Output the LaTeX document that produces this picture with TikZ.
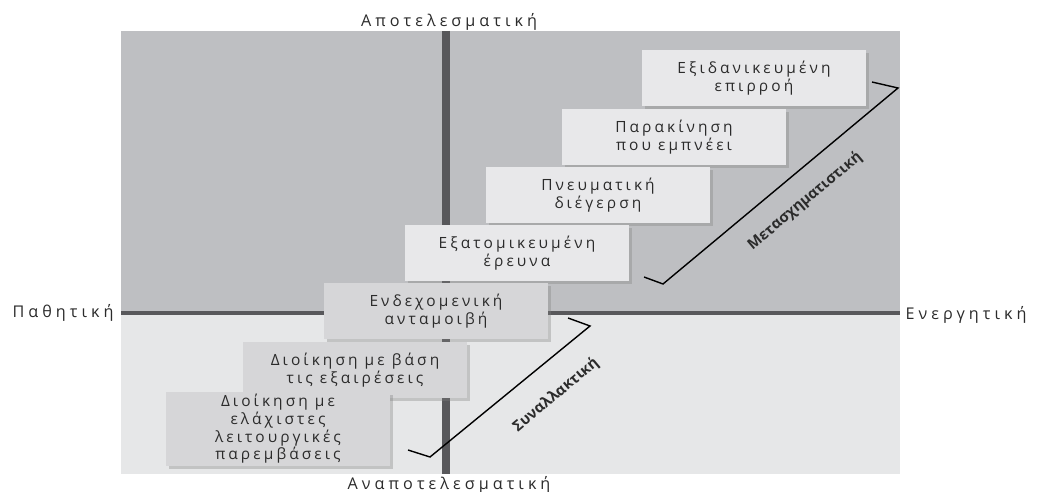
\documentclass[tikz,border=0pt]{standalone}
\usepackage{fontspec}
\setmainfont{Open Sans}
\newfontfamily\axisfont{Open Sans}[LetterSpace=25]
\newfontfamily\boxfont{Open Sans}[LetterSpace=20]
\usetikzlibrary{shadows}
\definecolor{upperbg}{HTML}{BEBFC2}
\definecolor{lowerbg}{HTML}{E6E7E8}
\definecolor{axisgray}{HTML}{58585B}
\definecolor{boxlight}{HTML}{E8E8EA}
\definecolor{boxdark}{HTML}{D6D6D8}
\definecolor{txtgray}{HTML}{2B2B2B}
\tikzset{
    stylebox/.style={fill=boxlight, minimum width=5.6cm, minimum height=1.4cm,
        inner sep=2pt, align=center, text=txtgray, font=\boxfont\fontsize{11}{10}\selectfont,
        drop shadow={opacity=0.35, shadow xshift=2pt, shadow yshift=-2pt}},
    lowbox/.style={stylebox, fill=boxdark},
    axislabel/.style={text=txtgray, font=\axisfont\fontsize{11.5}{12}\selectfont},
    bracket/.style={black, line width=1pt},
    bracketlabel/.style={text=txtgray, font=\fontsize{10.5}{10}\selectfont\bfseries, rotate=40}
}
\begin{document}
\begin{tikzpicture}[x=0.025cm, y=-0.025cm]
\useasboundingbox (0,0) rectangle (1055,492);
% quadrants
\fill[upperbg] (121,31) rectangle (900,313);
\fill[lowerbg] (121,313) rectangle (900,474);
\draw[axisgray, line width=2.8pt] (121,313) -- (900,313);
\draw[axisgray, line width=5.6pt] (446,31) -- (446,474);

% axis labels
\node[axislabel] (eff) at (449,22) {Αποτελεσματική};
\node[axislabel] (ineff) at (449,485) {Αναποτελεσματική};
\node[axislabel] (passive) at (63,313) {Παθητική};
\node[axislabel] (active) at (966,315) {Ενεργητική};

% styles of leadership
\node[stylebox] (influence) at (754,78) {Εξιδανικευμένη\\επιρροή};
\node[stylebox] (motivation) at (674,137) {Παρακίνηση\\που εμπνέει};
\node[stylebox] (stimulation) at (598,195) {Πνευματική\\διέγερση};
\node[stylebox] (consideration) at (517,253) {Εξατομικευμένη\\έρευνα};
\node[lowbox] (reward) at (436,311) {Ενδεχομενική\\ανταμοιβή};
\node[lowbox] (exception) at (355,370) {Διοίκηση με βάση\\τις εξαιρέσεις};
\node[lowbox] (laissez) at (278,429) {Διοίκηση με\\ελάχιστες\\λειτουργικές\\παρεμβάσεις};

% brackets
\coordinate (tA) at (872,82);
\coordinate (tB) at (898,88);
\coordinate (tC) at (663,284);
\coordinate (tD) at (644,277);
\draw[bracket] (tA) -- (tB) -- (tC) -- (tD);
\node[bracketlabel] (transform) at (805,201) {Μετασχηματιστική};

\coordinate (sA) at (568,318);
\coordinate (sB) at (590,326);
\coordinate (sC) at (430,457);
\coordinate (sD) at (408,450);
\draw[bracket] (sA) -- (sB) -- (sC) -- (sD);
\node[bracketlabel] (transact) at (556,395) {Συναλλακτική};
\end{tikzpicture}
\end{document}
